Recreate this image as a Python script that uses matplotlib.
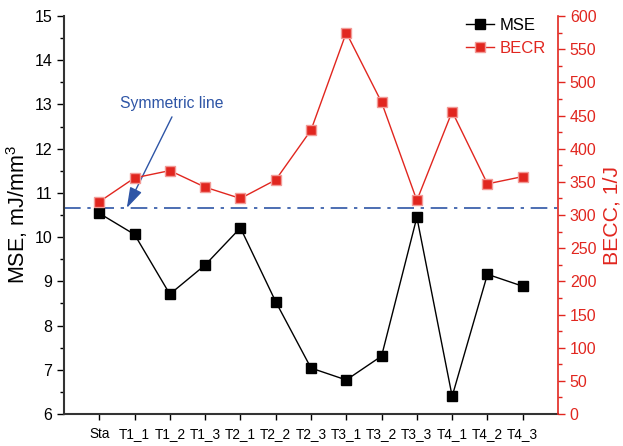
import matplotlib
matplotlib.use("Agg")
import matplotlib.pyplot as plt
from matplotlib.ticker import MultipleLocator

plt.rcParams['font.family'] = ['Liberation Sans', 'DejaVu Sans']
plt.rcParams['mathtext.fontset'] = 'custom'
plt.rcParams['mathtext.rm'] = 'Liberation Sans'
plt.rcParams['mathtext.it'] = 'Liberation Sans:italic'

categories = ["Sta", "T1_1", "T1_2", "T1_3", "T2_1", "T2_2", "T2_3",
              "T3_1", "T3_2", "T3_3", "T4_1", "T4_2", "T4_3"]
mse = [10.54, 10.06, 8.71, 9.37, 10.21, 8.54, 7.04, 6.77, 7.31, 10.45, 6.40, 9.16, 8.89]
becr = [320, 356, 367, 342, 325, 353, 428, 575, 470, 322, 456, 347, 358]
symmetric_level = 10.66

RED = "#e1261f"
BLUE = "#2e55a6"

fig = plt.figure(figsize=(6.23, 4.46), dpi=100)
ax = fig.add_axes([0.1027, 0.0717, 0.793, 0.8923])
ax2 = ax.twinx()

x = list(range(len(categories)))

l1, = ax.plot(x, mse, color="black", lw=1.0, marker="s", ms=6.8,
              mfc="black", mec="black", label="MSE", zorder=3)
l2, = ax2.plot(x, becr, color=RED, lw=1.0, marker="s", ms=6.8,
               mfc=RED, mec="#f29a96", mew=1.0, label="BECR", zorder=3)

ax.axhline(symmetric_level, color=BLUE, lw=1.2, ls=(0, (10, 4, 2, 4)), zorder=2)
ax.text(2.05, 13.03, "Symmetric line", color=BLUE, fontsize=11.3,
        ha="center", va="center")
ax.annotate("", xy=(0.78, symmetric_level), xytext=(2.06, 12.72),
            arrowprops=dict(arrowstyle="-|>,head_length=0.9,head_width=0.28",
                            color=BLUE, lw=1.0, mutation_scale=14,
                            shrinkA=0, shrinkB=0))

ax.set_xlim(-1, 13)
ax.set_ylim(6, 15)
ax2.set_ylim(0, 600)

ax.set_xticks(x)
ax.set_xticklabels(categories, fontsize=9.8)
ax.tick_params(axis="x", direction="out", length=4, pad=5.5, width=1)
ax.yaxis.set_major_locator(MultipleLocator(1))
ax.yaxis.set_minor_locator(MultipleLocator(0.5))
ax.tick_params(axis="y", which="major", direction="out", length=5, width=1, labelsize=11.5)
ax.tick_params(axis="y", which="minor", direction="out", length=3, width=1)

ax2.yaxis.set_major_locator(MultipleLocator(50))
ax2.yaxis.set_minor_locator(MultipleLocator(25))
ax2.tick_params(axis="y", which="major", direction="out", length=5, width=1,
                colors=RED, labelsize=11.5)
ax2.tick_params(axis="y", which="minor", direction="out", length=3, width=1, colors=RED)

for a in (ax, ax2):
    a.spines["top"].set_visible(False)
ax.spines["right"].set_visible(False)
ax2.spines["left"].set_visible(False)
ax2.spines["bottom"].set_visible(False)
ax2.spines["right"].set_color(RED)
ax.spines["left"].set_linewidth(1.5)
ax.spines["bottom"].set_linewidth(1.5)
ax.spines["left"].set_color("#333333")
ax.spines["bottom"].set_color("#333333")
ax2.spines["right"].set_linewidth(1.2)

ax.set_ylabel("MSE, mJ/mm$^3$", fontsize=15.5)
ax.yaxis.set_label_coords(-0.068, 0.5)
ax2.set_ylabel("BECC, 1/J", fontsize=15.3, color=RED)
ax2.yaxis.set_label_coords(1.09, 0.5)

leg = ax2.legend(handles=[l1, l2], loc="upper right", bbox_to_anchor=(0.995, 1.02),
                 frameon=False, fontsize=12, handlelength=1.7, handletextpad=0.3,
                 labelspacing=0.45, borderaxespad=0.2)
for txt, col in zip(leg.get_texts(), ["black", RED]):
    txt.set_color(col)

fig.savefig("out.png", dpi=100)
